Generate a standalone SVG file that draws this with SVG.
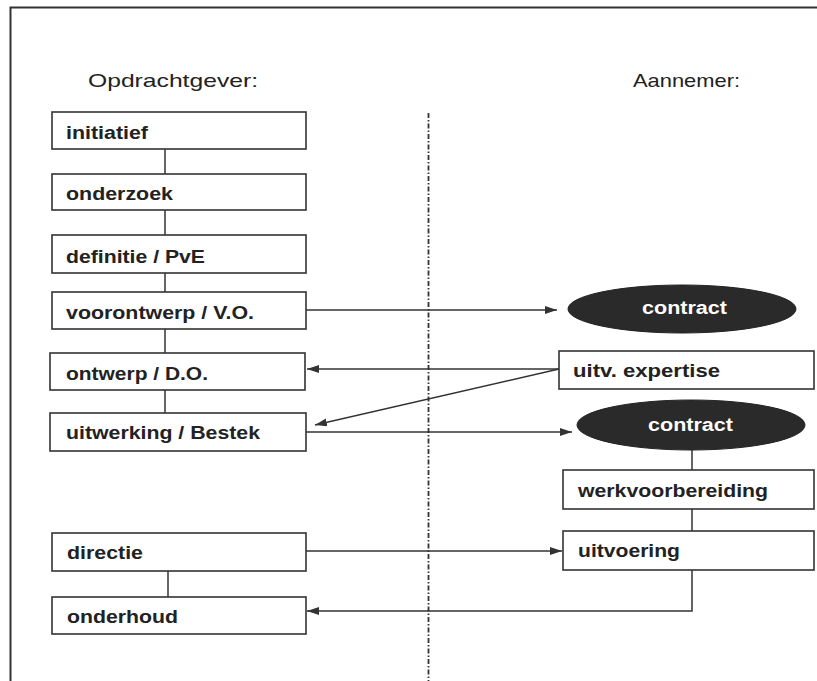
<svg xmlns="http://www.w3.org/2000/svg" width="817" height="681" viewBox="0 0 817 681">
<defs>
<marker id="arr" viewBox="0 0 12 8" refX="12" refY="4" markerWidth="12" markerHeight="8" markerUnits="userSpaceOnUse" orient="auto">
<path d="M0,0 L12,4 L0,8 Z" fill="#333"/>
</marker>
<style>
.box{fill:#fff;stroke:#333;stroke-width:1.6}
.ell{fill:#2a2a2a;stroke:#222;stroke-width:1}
.lbl{font-family:"Liberation Sans",Arial,sans-serif;font-weight:bold;font-size:18px;fill:#222}
.wl{font-family:"Liberation Sans",Arial,sans-serif;font-weight:bold;font-size:18px;fill:#fff}
.title{font-family:"Liberation Sans",Arial,sans-serif;font-size:19px;fill:#222}
.ln{fill:none;stroke:#333;stroke-width:1.5}
.ar{fill:none;stroke:#333;stroke-width:1.5;marker-end:url(#arr)}
</style>
</defs>
<rect width="817" height="681" fill="#fff"/>
<path d="M10.5,681 L10.5,7.5 L817,7.5" fill="none" stroke="#333" stroke-width="2"/>
<line x1="428.5" y1="113" x2="428.5" y2="681" stroke="#333" stroke-width="1.8" stroke-dasharray="5 2 1.5 2"/>
<text class="title" x="88" y="87" textLength="170" lengthAdjust="spacingAndGlyphs">Opdrachtgever:</text>
<text class="title" x="633" y="87" textLength="107" lengthAdjust="spacingAndGlyphs">Aannemer:</text>

<g id="connectors">
<line class="ln" x1="165" y1="149" x2="165" y2="174"/>
<line class="ln" x1="165" y1="210" x2="165" y2="235"/>
<line class="ln" x1="165" y1="273" x2="165" y2="292"/>
<line class="ln" x1="165" y1="329" x2="165" y2="353"/>
<line class="ln" x1="165" y1="390" x2="165" y2="413"/>
<line class="ln" x1="168" y1="571" x2="168" y2="597"/>
<line class="ln" x1="692" y1="450" x2="692" y2="470"/>
<line class="ln" x1="692" y1="509" x2="692" y2="531"/>
<line class="ar" x1="306" y1="310" x2="557" y2="310"/>
<line class="ar" x1="559" y1="369" x2="307" y2="369"/>
<line class="ar" x1="559" y1="369" x2="315" y2="425"/>
<line class="ar" x1="306" y1="432" x2="572" y2="432"/>
<line class="ar" x1="306" y1="551" x2="562" y2="551"/>
<path class="ar" d="M692,570 L692,611 L307,611"/>
</g>

<g id="initiatief"><rect class="box" x="52" y="112" width="254" height="37"/><text class="lbl" x="66" y="139" textLength="82" lengthAdjust="spacingAndGlyphs">initiatief</text></g>
<g id="onderzoek"><rect class="box" x="52" y="174" width="254" height="36"/><text class="lbl" x="66" y="200" textLength="107" lengthAdjust="spacingAndGlyphs">onderzoek</text></g>
<g id="definitie"><rect class="box" x="52" y="235" width="254" height="38"/><text class="lbl" x="66" y="263" textLength="139" lengthAdjust="spacingAndGlyphs">definitie / PvE</text></g>
<g id="voorontwerp"><rect class="box" x="52" y="292" width="254" height="37"/><text class="lbl" x="66" y="319" textLength="188" lengthAdjust="spacingAndGlyphs">voorontwerp / V.O.</text></g>
<g id="ontwerp"><rect class="box" x="50" y="353" width="255" height="37"/><text class="lbl" x="66" y="380" textLength="142" lengthAdjust="spacingAndGlyphs">ontwerp / D.O.</text></g>
<g id="uitwerking"><rect class="box" x="50" y="413" width="256" height="38"/><text class="lbl" x="66" y="439" textLength="194" lengthAdjust="spacingAndGlyphs">uitwerking / Bestek</text></g>
<g id="directie"><rect class="box" x="52" y="533" width="254" height="38"/><text class="lbl" x="67" y="559" textLength="76" lengthAdjust="spacingAndGlyphs">directie</text></g>
<g id="onderhoud"><rect class="box" x="52" y="597" width="254" height="37"/><text class="lbl" x="67" y="623" textLength="111" lengthAdjust="spacingAndGlyphs">onderhoud</text></g>

<g id="contract1"><ellipse class="ell" cx="682" cy="309" rx="114" ry="24"/><text class="wl" x="642" y="314" textLength="85" lengthAdjust="spacingAndGlyphs">contract</text></g>
<g id="expertise"><rect class="box" x="559" y="351" width="255" height="38"/><text class="lbl" x="573" y="377" textLength="147" lengthAdjust="spacingAndGlyphs">uitv. expertise</text></g>
<g id="contract2"><ellipse class="ell" cx="691" cy="425" rx="114" ry="25"/><text class="wl" x="648" y="431" textLength="85" lengthAdjust="spacingAndGlyphs">contract</text></g>
<g id="werkvoorbereiding"><rect class="box" x="563" y="470" width="251" height="39"/><text class="lbl" x="578" y="497" textLength="190" lengthAdjust="spacingAndGlyphs">werkvoorbereiding</text></g>
<g id="uitvoering"><rect class="box" x="563" y="531" width="251" height="39"/><text class="lbl" x="578" y="557" textLength="102" lengthAdjust="spacingAndGlyphs">uitvoering</text></g>
</svg>
